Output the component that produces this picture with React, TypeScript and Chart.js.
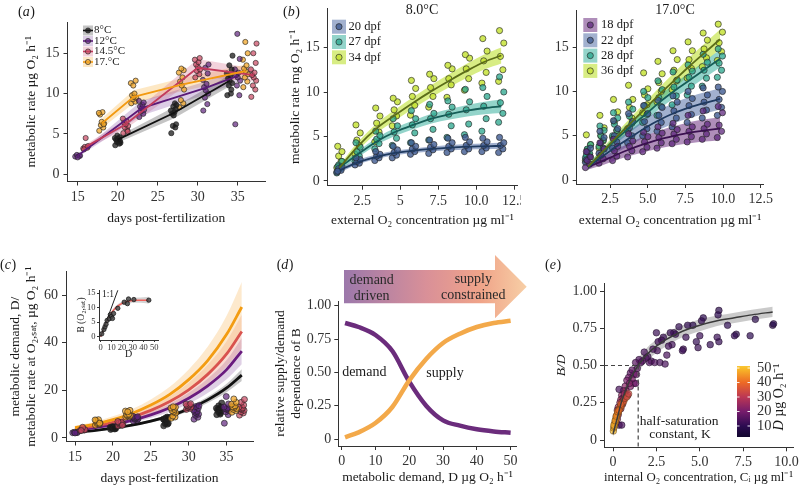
import React, { useEffect, useRef } from 'react';
import { Chart, registerables } from 'chart.js';

Chart.register(...registerables);

const SERIF = "'Liberation Serif', 'Times New Roman', Times, serif";
Chart.defaults.font.family = SERIF;
const INK = '#1a1a1a';
const AXIS = '#333333';
const TICK_FONT = 14;

// ---------------- (a) / (c) : metabolic rate by day & temperature ----------------
const TEMP_LABELS = ['8°C', '12°C', '14.5°C', '17.°C'];
const DAYS_8 = [20, 27, 34];
const MEAN_8 = [4.3, 7.6, 11.6];
const LO_8 = [3.9, 6.9, 10.9];
const HI_8 = [4.7, 8.3, 12.3];
const PTS_8 = [
  [3.6, 3.8, 4.0, 4.1, 4.2, 4.3, 4.4, 4.5, 4.6, 4.8, 3.9, 4.2],
  [5.1, 5.8, 6.0, 6.2, 7.3, 7.5, 7.7, 7.9, 8.1, 8.4, 8.6, 8.8],
  [9.8, 10.5, 11.0, 11.3, 11.6, 11.9, 12.2, 12.5, 13.0, 13.5, 14.7, 10.0],
];
const DAYS_12 = [15, 23, 31, 35];
const MEAN_12 = [2.3, 8.2, 10.7, 12.2];
const LO_12 = [2.1, 7.3, 9.9, 11.4];
const HI_12 = [2.5, 9.1, 11.5, 13.0];
const PTS_12 = [
  [2.2, 2.3, 2.4, 2.3, 2.1],
  [7.1, 7.5, 7.8, 8.0, 8.2, 8.4, 8.6, 9.1, 8.9],
  [7.9, 8.7, 9.5, 10.0, 10.4, 10.8, 11.2, 11.7, 12.5, 13.2, 13.6],
  [6.2, 9.8, 11.0, 11.6, 12.0, 12.3, 12.6, 13.0, 14.3, 17.4],
];
const DAYS_145 = [16, 21, 30, 37];
const MEAN_145 = [3.4, 6.2, 13.2, 12.3];
const LO_145 = [3.1, 5.6, 12.1, 11.5];
const HI_145 = [3.7, 6.8, 14.3, 13.1];
const PTS_145 = [
  [3.2, 3.3, 3.4, 3.5, 4.5, 3.1],
  [5.1, 5.5, 5.8, 6.0, 6.2, 6.4, 6.6, 6.9, 5.3],
  [12.0, 12.4, 12.8, 13.0, 13.3, 13.6, 13.9, 14.2, 14.4],
  [9.6, 10.5, 11.0, 11.6, 12.0, 12.3, 12.6, 13.0, 13.8, 15.0, 16.2],
];
const DAYS_17 = [18, 22, 28, 36];
const MEAN_17 = [6.3, 9.6, 11.1, 12.8];
const LO_17 = [5.7, 8.8, 10.3, 12.0];
const HI_17 = [6.9, 10.4, 11.9, 13.6];
const PTS_17 = [
  [5.4, 5.8, 6.1, 6.3, 6.5, 7.4, 7.7, 7.6, 6.2],
  [8.8, 9.0, 9.3, 9.5, 9.6, 9.8, 10.0, 11.3, 11.6, 11.0],
  [8.3, 8.8, 9.2, 10.5, 11.0, 11.5, 12.0, 12.6, 12.9, 13.1],
  [10.8, 11.5, 12.0, 12.4, 12.8, 13.1, 13.5, 14.2, 15.0, 16.4],
];
const JIT_A = [-0.3, 0.2, -0.1, 0.3, 0.0, -0.2, 0.1, -0.35, 0.25, -0.05, 0.35, 0.15];

// (c) demand curves
const C_DAYS = [15, 17.5, 20, 22.5, 25, 27.5, 30, 32.5, 35, 37];
const C_8 = [2.4, 3.1, 4.1, 5.4, 7.1, 9.3, 12.2, 16.0, 21.0, 26.4];
const C_12 = [3.3, 4.3, 5.6, 7.4, 9.7, 12.7, 16.7, 21.9, 28.7, 36.5];
const C_145 = [3.8, 5.0, 6.6, 8.8, 11.6, 15.3, 20.2, 26.7, 35.3, 44.7];
const C_17 = [4.3, 5.7, 7.7, 10.3, 13.8, 18.3, 24.5, 32.5, 43.5, 55.0];
const C_8_HW = [0.3, 0.35, 0.4, 0.5, 0.6, 0.8, 1.0, 1.3, 1.8, 2.5];
const C_12_HW = [0.5, 0.6, 0.8, 1.0, 1.3, 1.7, 2.3, 3.0, 4.0, 5.5];
const C_145_HW = [0.6, 0.8, 1.0, 1.3, 1.7, 2.2, 3.0, 4.0, 5.3, 7.0];
const C_17_HW = [0.8, 1.0, 1.4, 1.8, 2.4, 3.2, 4.3, 5.8, 7.8, 10.5];

// (c) inset
const IN_D = [1, 3, 4, 5, 6, 8, 9, 10, 11, 12, 16, 22, 25, 26, 31, 45];
const IN_B = [1.0, 2.5, 3.4, 4.3, 5.6, 6.2, 7.6, 7.0, 6.3, 8.0, 9.8, 11.9, 11.4, 13.0, 12.8, 12.6];
const IN_FIT_D = [0, 5, 10, 15, 20, 25, 30, 35, 40, 45];
const IN_FIT_B = [0, 4.8, 8.2, 10.3, 11.5, 12.2, 12.5, 12.6, 12.6, 12.6];
const IN_FIT_HW = [0.3, 0.5, 0.6, 0.6, 0.6, 0.7, 0.8, 0.9, 1.0, 1.2];
const IN_ONE_D = [0, 16];
const IN_ONE_B = [0, 16];

// ---------------- (b) 8.0°C ----------------
const O2_8 = [1.0, 2.2, 3.5, 4.65, 5.85, 7.05, 8.25, 9.4, 10.55, 11.65];
const FIT_8_20 = [1.2, 2.1, 2.75, 3.15, 3.4, 3.6, 3.75, 3.85, 3.9, 3.95];
const FIT_8_27 = [1.5, 3.0, 4.5, 5.5, 6.3, 7.0, 7.5, 7.9, 8.2, 8.4];
const FIT_8_34 = [1.5, 3.9, 6.0, 7.4, 8.8, 10.1, 11.3, 12.4, 13.4, 14.1];
const HW_8_20 = [0.25, 0.25, 0.25, 0.25, 0.25, 0.28, 0.3, 0.3, 0.32, 0.35];
const HW_8_27 = [0.3, 0.35, 0.4, 0.45, 0.5, 0.55, 0.6, 0.65, 0.7, 0.75];
const HW_8_34 = [0.3, 0.45, 0.55, 0.6, 0.65, 0.7, 0.75, 0.8, 0.85, 0.9];
const PTS_8_20 = [
  [1.0, 1.2, 1.4, 1.6, 1.1], [1.8, 2.0, 2.2, 2.4, 2.6], [2.3, 2.6, 2.8, 3.0, 3.3],
  [2.6, 2.9, 3.2, 3.5, 3.9], [3.0, 3.3, 3.6, 3.9, 4.3], [3.1, 3.5, 3.8, 4.1, 4.6],
  [3.2, 3.6, 3.9, 4.3, 4.8], [3.3, 3.6, 4.0, 4.4, 4.9], [3.3, 3.7, 4.0, 4.4, 4.8],
  [3.2, 3.6, 4.0, 4.3, 4.9],
];
const PTS_8_27 = [
  [0.9, 1.4, 1.8, 2.2, 1.6], [2.2, 2.8, 3.3, 3.8, 4.3], [3.6, 4.2, 4.7, 5.1, 5.6],
  [4.0, 4.8, 5.5, 6.2, 7.0], [4.3, 5.4, 6.3, 7.0, 7.9], [4.6, 5.8, 7.0, 7.6, 8.6],
  [4.9, 6.2, 7.5, 8.3, 9.0], [5.2, 6.4, 8.0, 8.9, 10.3], [5.6, 7.0, 8.4, 9.5, 10.5],
  [6.6, 7.6, 8.8, 10.0, 11.7],
];
const PTS_8_34 = [
  [1.5, 2.2, 2.8, 3.3, 3.9], [3.0, 4.0, 4.6, 5.4, 6.3], [4.4, 5.5, 6.5, 7.3, 8.2],
  [6.2, 7.3, 8.0, 8.9, 9.3], [7.4, 8.5, 9.5, 10.4, 11.3], [8.3, 9.5, 10.5, 11.5, 12.0],
  [9.4, 10.8, 11.5, 12.6, 13.0], [10.2, 11.5, 12.6, 13.8, 14.2], [11.0, 12.2, 13.5, 14.6, 16.0],
  [11.2, 12.5, 14.0, 15.5, 16.9],
];

// ---------------- (b) 17.0°C ----------------
const O2_17 = [1.05, 1.95, 2.85, 3.85, 4.85, 5.8, 6.8, 7.8, 8.8, 9.8];
const FIT_17_18 = [1.5, 2.1, 2.8, 3.5, 4.1, 4.6, 5.0, 5.35, 5.6, 5.8];
const FIT_17_22 = [1.5, 2.6, 3.7, 4.8, 5.9, 6.8, 7.6, 8.2, 8.7, 9.15];
const FIT_17_28 = [1.5, 3.0, 4.5, 6.0, 7.4, 8.8, 10.1, 11.3, 12.5, 13.7];
const FIT_17_36 = [1.5, 3.1, 4.7, 6.4, 8.1, 9.7, 11.3, 12.9, 14.4, 15.9];
const HW_17_18 = [0.3, 0.45, 0.6, 0.75, 0.9, 1.0, 1.1, 1.2, 1.25, 1.3];
const HW_17_22 = [0.3, 0.5, 0.7, 0.85, 1.0, 1.1, 1.15, 1.2, 1.2, 1.2];
const HW_17_28 = [0.3, 0.4, 0.5, 0.6, 0.7, 0.75, 0.8, 0.9, 0.95, 1.0];
const HW_17_36 = [0.3, 0.4, 0.5, 0.6, 0.7, 0.8, 0.9, 1.0, 1.05, 1.1];
const PTS_17_18 = [
  [1.4, 1.8, 2.2, 2.6, 3.2], [1.9, 2.4, 2.8, 3.5, 4.2], [2.2, 2.7, 3.3, 3.8, 4.6],
  [2.6, 3.3, 3.8, 4.4, 5.2], [3.2, 3.7, 4.3, 4.9, 5.4], [3.6, 4.2, 4.8, 5.3, 6.0],
  [4.1, 4.6, 5.2, 5.7, 6.4], [4.3, 4.9, 5.5, 6.0, 7.3], [4.6, 5.2, 5.8, 6.3, 7.8],
  [4.8, 5.5, 6.2, 7.6, 8.3],
];
const PTS_17_22 = [
  [2.0, 2.6, 3.2, 3.6, 2.3], [3.0, 3.6, 4.2, 4.8, 5.5], [3.6, 4.3, 5.0, 5.8, 6.7],
  [4.2, 5.0, 5.9, 6.6, 7.5], [5.0, 5.8, 6.6, 7.5, 8.4], [5.5, 6.5, 7.3, 8.2, 9.0],
  [6.0, 7.0, 7.8, 8.8, 9.5], [6.5, 7.4, 8.4, 9.2, 10.0], [7.0, 7.9, 8.8, 9.6, 10.4],
  [7.3, 8.2, 9.1, 10.0, 10.5],
];
const PTS_17_28 = [
  [2.5, 3.0, 3.5, 4.0, 2.8], [3.8, 4.5, 5.0, 5.6, 6.1], [5.0, 5.6, 6.3, 7.0, 7.6],
  [5.6, 6.4, 7.2, 8.0, 8.8], [6.5, 7.4, 8.4, 9.3, 10.0], [7.3, 8.3, 9.3, 10.2, 11.2],
  [8.5, 9.5, 10.5, 11.3, 12.2], [9.6, 10.6, 11.6, 12.3, 13.0], [10.6, 11.5, 12.4, 13.3, 14.2],
  [11.6, 12.4, 13.2, 14.0, 14.8],
];
const PTS_17_36 = [
  [2.2, 2.8, 3.4, 4.0, 5.1], [3.6, 4.4, 5.0, 5.9, 7.3], [4.8, 5.6, 6.6, 7.7, 9.1],
  [5.8, 7.0, 8.2, 9.1, 10.7], [7.6, 8.5, 9.6, 10.3, 12.1], [8.8, 10.0, 11.0, 12.0, 13.4],
  [10.2, 11.2, 12.4, 13.6, 14.6], [11.5, 12.6, 13.6, 14.6, 15.6], [12.8, 13.8, 14.8, 15.8, 16.6],
  [13.5, 14.5, 15.5, 16.7, 17.6],
];
const JIT_B = [-0.18, 0.1, -0.06, 0.16, -0.12];

// ---------------- (d) ----------------
const D_X = [1, 5, 10, 15, 20, 25, 30, 35, 40, 45, 50];
const D_DEMAND = [0.87, 0.84, 0.78, 0.66, 0.43, 0.25, 0.14, 0.1, 0.073, 0.057, 0.047];
const D_SUPPLY = [0.013, 0.05, 0.12, 0.24, 0.44, 0.6, 0.72, 0.79, 0.84, 0.87, 0.887];

// ---------------- (e) ----------------
const E_FIT_C = [0, 0.25, 0.5, 1.0, 1.5, 2.0, 2.5, 3.0, 4.0, 5.0, 6.0, 7.0, 8.0, 9.2];
const E_FIT_BD = [0.04, 0.15, 0.26, 0.41, 0.51, 0.58, 0.63, 0.67, 0.73, 0.77, 0.8, 0.82, 0.84, 0.86];
const E_FIT_HW = [0.02, 0.03, 0.035, 0.04, 0.045, 0.045, 0.045, 0.045, 0.04, 0.04, 0.035, 0.035, 0.035, 0.035];
const E_K = 1.45;
const E_HALF = 0.5;
// [C, B/D, D]
const E_LOW = [
  [9.2, 0.77, 9], [9.25, 0.78, 8], [8.2, 0.81, 9], [7.9, 0.7, 10], [7.1, 0.71, 9], [7.0, 0.7, 11],
  [6.6, 0.77, 10], [6.1, 0.87, 9], [6.05, 0.84, 10], [6.1, 0.66, 11], [6.0, 0.69, 12], [5.6, 0.64, 11],
  [5.2, 0.82, 10], [5.1, 0.8, 11], [5.0, 0.7, 12], [4.9, 0.62, 12], [4.8, 0.66, 11], [4.6, 0.77, 10],
  [4.3, 0.77, 11], [4.2, 0.69, 12], [4.05, 0.61, 13], [4.0, 0.6, 12], [3.8, 0.76, 11], [3.6, 0.71, 12],
  [3.5, 0.72, 12], [3.4, 0.64, 13], [3.2, 0.63, 13], [3.1, 0.57, 14], [2.9, 0.69, 12], [2.8, 0.67, 13],
  [2.6, 0.66, 13], [2.55, 0.6, 14], [2.3, 0.61, 14], [2.2, 0.53, 15], [2.1, 0.52, 15], [2.0, 0.56, 14],
  [1.9, 0.55, 15], [1.8, 0.59, 14], [1.7, 0.53, 16], [1.6, 0.52, 16], [1.5, 0.54, 15], [1.4, 0.48, 17],
  [1.3, 0.52, 16], [2.4, 0.52, 15], [2.7, 0.52, 14], [3.0, 0.51, 14], [2.5, 0.72, 12], [3.3, 0.72, 12],
  [1.2, 0.44, 18],
];
const E_MID = [
  [1.0, 0.45, 18], [1.1, 0.47, 17], [0.9, 0.42, 20], [1.2, 0.38, 20], [1.3, 0.38, 19], [1.0, 0.36, 22],
  [0.8, 0.4, 21], [0.7, 0.36, 23], [0.75, 0.33, 24], [0.6, 0.33, 25], [0.5, 0.3, 26], [0.55, 0.28, 27],
  [0.45, 0.27, 28], [0.4, 0.25, 29], [0.35, 0.34, 14], [0.3, 0.22, 30], [0.25, 0.2, 30], [0.2, 0.16, 31],
  [0.15, 0.12, 32], [0.35, 0.1, 12], [0.5, 0.1, 14], [0.6, 0.27, 26], [0.85, 0.3, 28], [1.1, 0.41, 21],
  [1.35, 0.44, 19], [0.95, 0.38, 22], [0.65, 0.31, 25], [0.45, 0.21, 30], [0.3, 0.17, 31], [0.25, 0.14, 32],
  [0.55, 0.24, 28],
];
const E_HIGH = [
  [0.02, 0.06, 50], [0.04, 0.08, 49], [0.07, 0.09, 48], [0.1, 0.11, 47], [0.13, 0.12, 46], [0.16, 0.14, 45],
  [0.2, 0.15, 44], [0.24, 0.17, 43], [0.28, 0.18, 42], [0.32, 0.19, 41], [0.37, 0.21, 40], [0.42, 0.22, 39],
  [0.48, 0.23, 38], [0.55, 0.25, 37], [0.62, 0.26, 36], [0.7, 0.28, 35], [0.8, 0.29, 34], [0.9, 0.31, 33],
  [0.05, 0.1, 48], [0.12, 0.13, 46], [0.18, 0.16, 44], [0.26, 0.19, 42], [0.34, 0.2, 40], [0.45, 0.24, 38],
];
const CB_TICKS = [50, 40, 30, 20, 10];
const D_STOPS: any[] = [
  [2, '#10072c'], [10, '#2c0b51'], [20, '#761c6c'], [30, '#bc3754'], [40, '#ed6925'], [50, '#f9be28'], [53, '#f6cf45'],
];

// ---------------- styles ----------------
const TEMP_LINE = ['#111111', '#5a1a78', '#c23b5c', '#f29a12'];
const TEMP_PT = ['rgba(25,25,25,0.75)', 'rgba(95,35,125,0.7)', 'rgba(200,70,95,0.7)', 'rgba(240,165,40,0.75)'];
const TEMP_BAND = ['rgba(60,60,60,0.3)', 'rgba(140,90,170,0.3)', 'rgba(215,110,140,0.3)', 'rgba(250,190,90,0.35)'];
const C_LINE = ['#111111', '#6a1b7e', '#d9534e', '#f39c12'];
const C_BAND = ['rgba(70,70,70,0.3)', 'rgba(150,100,170,0.3)', 'rgba(235,140,110,0.3)', 'rgba(250,200,130,0.4)'];

type Pt = { x: number; y: number };
const xy = (xs: number[], ys: number[]): Pt[] => xs.map((x, i) => ({ x, y: ys[i] }));
const xyOff = (xs: number[], ys: number[], hw: number[], s: number): Pt[] => xs.map((x, i) => ({ x, y: ys[i] + s * hw[i] }));
const clusterPts = (xs: number[], groups: number[][], jit: number[]): Pt[] => {
  const out: Pt[] = [];
  groups.forEach((vals, i) => vals.forEach((v, j) => out.push({ x: xs[i] + jit[j % jit.length], y: v })));
  return out;
};

function hexToRgb(h: string) {
  const n = parseInt(h.slice(1), 16);
  return [(n >> 16) & 255, (n >> 8) & 255, n & 255];
}
function dColor(d: number, a = 1) {
  let i = 0;
  while (i < D_STOPS.length - 2 && d > D_STOPS[i + 1][0]) i++;
  const [d0, c0] = D_STOPS[i];
  const [d1, c1] = D_STOPS[i + 1];
  const t = Math.max(0, Math.min(1, (d - d0) / (d1 - d0)));
  const a0 = hexToRgb(c0), a1 = hexToRgb(c1);
  const r = a0.map((v, k) => Math.round(v + (a1[k] - v) * t));
  return `rgba(${r[0]},${r[1]},${r[2]},${a})`;
}

type AxisSpec = {
  pos: 'x' | 'y'; min: number; max: number; ticks: number[]; labels?: string[]; size: number;
  title?: string | string[]; titlePad?: number; titleItalic?: boolean; font?: number; titleFont?: number;
  tickLen?: number; tickPad?: number;
};
function mkAxis(a: AxisSpec) {
  const isX = a.pos === 'x';
  return {
    type: 'linear',
    position: isX ? 'bottom' : 'left',
    min: a.min, max: a.max, bounds: 'data',
    afterBuildTicks: (s: any) => { s.ticks = a.ticks.map((v) => ({ value: v })); },
    afterFit: (s: any) => {
      if (isX) s.height = a.size; else s.width = a.size;
      s.paddingLeft = 0; s.paddingRight = 0; s.paddingTop = 0; s.paddingBottom = 0;
    },
    ticks: {
      autoSkip: false, maxRotation: 0, minRotation: 0, padding: a.tickPad ?? 3, color: '#333333',
      font: { family: SERIF, size: a.font ?? TICK_FONT },
      callback: (v: any, i: number) => (a.labels ? a.labels[i] : String(v)),
    },
    grid: { display: true, drawOnChartArea: false, drawTicks: true, tickLength: a.tickLen ?? 4, color: AXIS, tickColor: AXIS, lineWidth: 1, tickWidth: 1 },
    border: { display: true, color: AXIS, width: 1 },
    title: a.title
      ? { display: true, text: a.title, color: INK, font: { family: SERIF, size: a.titleFont ?? 13.5, style: a.titleItalic ? 'italic' : 'normal', lineHeight: 1.2 },
          padding: isX ? { top: 0, bottom: a.titlePad ?? 0 } : { top: a.titlePad ?? 0, bottom: 0 } }
      : { display: false },
  };
}

function baseConfig(datasets: any[], scales: any, padding: any, plugins: any[]) {
  return {
    type: 'line',
    data: { datasets },
    options: {
      responsive: false, animation: false, events: [],
      layout: { padding, autoPadding: false },
      plugins: { legend: { display: false }, tooltip: { enabled: false }, title: { display: false } },
      scales,
    },
    plugins,
  };
}

const dsPts = (data: Pt[], fill: any, r = 3, order = 1, stroke = 'rgba(35,35,35,0.8)') => ({
  data, showLine: false, pointRadius: r, pointHoverRadius: r, pointBackgroundColor: fill, pointBorderColor: stroke, pointBorderWidth: 0.8, order,
});
const dsLine = (data: Pt[], color: string, width: number, order = 0, extra: any = {}) => ({
  data, borderColor: color, borderWidth: width, pointRadius: 0, pointHoverRadius: 0, fill: false, order, cubicInterpolationMode: 'monotone', ...extra,
});
const dsBand = (lo: Pt[], hi: Pt[], color: string, order = 10, extra: any = {}) => [
  { data: lo, borderWidth: 0, borderColor: 'rgba(0,0,0,0)', pointRadius: 0, pointHoverRadius: 0, fill: false, order, cubicInterpolationMode: 'monotone', ...extra },
  { data: hi, borderWidth: 0, borderColor: 'rgba(0,0,0,0)', pointRadius: 0, pointHoverRadius: 0, fill: '-1', backgroundColor: color, order, cubicInterpolationMode: 'monotone', ...extra },
];

function txt(ctx: CanvasRenderingContext2D, s: string, x: number, y: number, o: any = {}) {
  ctx.save();
  ctx.font = `${o.italic ? 'italic ' : ''}${o.size ?? 13}px ${SERIF}`;
  ctx.fillStyle = o.color ?? INK;
  ctx.textAlign = o.align ?? 'center';
  ctx.textBaseline = o.base ?? 'middle';
  ctx.translate(x, y);
  if (o.rot) ctx.rotate(o.rot);
  ctx.fillText(s, 0, 0);
  ctx.restore();
}
function panelLabel(ctx: CanvasRenderingContext2D, letter: string, x: number, y: number) {
  ctx.save();
  ctx.textBaseline = 'middle'; ctx.textAlign = 'left'; ctx.fillStyle = INK;
  ctx.font = `14px ${SERIF}`;
  ctx.fillText('(', x, y);
  let w = ctx.measureText('(').width;
  ctx.font = `italic 14px ${SERIF}`;
  ctx.fillText(letter, x + w, y);
  w += ctx.measureText(letter).width + 0.5;
  ctx.font = `14px ${SERIF}`;
  ctx.fillText(')', x + w, y);
  ctx.restore();
}
const drawPlugin = (id: string, fn: (chart: any, ctx: CanvasRenderingContext2D) => void) => ({
  id, afterDraw(chart: any) { const ctx = chart.ctx; ctx.save(); fn(chart, ctx); ctx.restore(); },
});
function keyBox(ctx: CanvasRenderingContext2D, x: number, y: number, w: number, h: number, band: string, pt: string, r: number, line?: string) {
  ctx.fillStyle = band; ctx.fillRect(x, y - h / 2, w, h);
  if (line) { ctx.strokeStyle = line; ctx.lineWidth = 1.6; ctx.beginPath(); ctx.moveTo(x, y); ctx.lineTo(x + w, y); ctx.stroke(); }
  ctx.beginPath(); ctx.arc(x + w / 2, y, r, 0, Math.PI * 2); ctx.fillStyle = pt; ctx.fill();
  ctx.strokeStyle = 'rgba(35,35,35,0.8)'; ctx.lineWidth = 0.8; ctx.stroke();
}

// ---------------- panel makers ----------------
const TEMPS = [
  { days: DAYS_8, mean: MEAN_8, lo: LO_8, hi: HI_8, pts: PTS_8 },
  { days: DAYS_12, mean: MEAN_12, lo: LO_12, hi: HI_12, pts: PTS_12 },
  { days: DAYS_145, mean: MEAN_145, lo: LO_145, hi: HI_145, pts: PTS_145 },
  { days: DAYS_17, mean: MEAN_17, lo: LO_17, hi: HI_17, pts: PTS_17 },
];

function makeA() {
  const W = 285, H = 235, L = 67.5, T = 22, R = 265, B = 181.5;
  const ds: any[] = [];
  const straight = { cubicInterpolationMode: 'default', tension: 0 };
  TEMPS.forEach((t, k) => ds.push(...dsBand(xy(t.days, t.lo), xy(t.days, t.hi), TEMP_BAND[k], 10 + k, straight)));
  TEMPS.forEach((t, k) => ds.push(dsPts(clusterPts(t.days, t.pts, JIT_A), TEMP_PT[k], 2.6, 5)));
  TEMPS.forEach((t, k) => ds.push(dsLine(xy(t.days, t.mean), TEMP_LINE[k], 1.8, 4 - k, straight)));
  const scales = {
    x: mkAxis({ pos: 'x', min: 13.73, max: 38.41, ticks: [15, 20, 25, 30, 35], size: H - B, title: 'days post-fertilization', titlePad: 8.6, tickPad: 3 }),
    y: mkAxis({ pos: 'y', min: -0.89, max: 18.87, ticks: [0, 5, 10, 15], size: L, title: 'metabolic rate µg O₂ h⁻¹', titlePad: 22.9, tickPad: 4 }),
  };
  const deco = drawPlugin('decoA', (chart, ctx) => {
    panelLabel(ctx, 'a', 18, 12);
    TEMP_LABELS.forEach((lab, i) => {
      const y = 30.5 + i * 10.5;
      keyBox(ctx, 83, y, 10, 10, TEMP_BAND[i], TEMP_PT[i], 2.6, TEMP_LINE[i]);
      txt(ctx, lab, 94, y, { size: 11, align: 'left' });
    });
  });
  return baseConfig(ds, scales, { left: 0, top: T, right: W - R, bottom: 0 }, [deco]);
}

function makeB(which: 8 | 17) {
  const is8 = which === 8;
  const W = is8 ? 241 : 259, H = 235;
  const L = is8 ? 47.7 : 36.7, T = is8 ? 8 : 10, R = is8 ? 237 : 223.3, B = is8 ? 185.7 : 184;
  const xs = is8 ? O2_8 : O2_17;
  const groups = is8
    ? [
        { fit: FIT_8_20, hw: HW_8_20, pts: PTS_8_20, lab: '20 dpf', c: 1 },
        { fit: FIT_8_27, hw: HW_8_27, pts: PTS_8_27, lab: '27 dpf', c: 2 },
        { fit: FIT_8_34, hw: HW_8_34, pts: PTS_8_34, lab: '34 dpf', c: 3 },
      ]
    : [
        { fit: FIT_17_18, hw: HW_17_18, pts: PTS_17_18, lab: '18 dpf', c: 0 },
        { fit: FIT_17_22, hw: HW_17_22, pts: PTS_17_22, lab: '22 dpf', c: 1 },
        { fit: FIT_17_28, hw: HW_17_28, pts: PTS_17_28, lab: '28 dpf', c: 2 },
        { fit: FIT_17_36, hw: HW_17_36, pts: PTS_17_36, lab: '36 dpf', c: 3 },
      ];
  const PT = ['rgba(95,40,125,0.75)', 'rgba(62,90,145,0.8)', 'rgba(40,165,140,0.75)', 'rgba(195,225,45,0.8)'];
  const BAND = ['rgba(110,50,130,0.55)', 'rgba(70,100,160,0.5)', 'rgba(40,170,150,0.5)', 'rgba(190,225,50,0.6)'];
  const LINE = ['#3a1050', '#1f3a60', '#165e58', '#5c6d18'];
  const ds: any[] = [];
  groups.forEach((g, k) => ds.push(...dsBand(xyOff(xs, g.fit, g.hw, -1), xyOff(xs, g.fit, g.hw, 1), BAND[g.c], 10 + k)));
  groups.forEach((g, k) => ds.push(dsPts(clusterPts(xs, g.pts, JIT_B), PT[g.c], 3.1, 5)));
  groups.forEach((g, k) => ds.push(dsLine(xy(xs, g.fit), LINE[g.c], 1.8, 4 - k)));
  const scales = {
    x: mkAxis({ pos: 'x', min: is8 ? 0.22 : 0.29, max: is8 ? 12.68 : 12.67, ticks: [2.5, 5, 7.5, 10, 12.5],
      labels: is8 ? ['2.5', '5', '7.5', '10.0', '12.5'] : ['2.5', '5.0', '7.5', '10.0', '12.5'],
      size: H - B, title: 'external O₂ concentration µg ml⁻¹', titlePad: 6.9, tickPad: 3 }),
    y: mkAxis({ pos: 'y', min: is8 ? -0.53 : -0.45, max: is8 ? 19.44 : 19.2, ticks: [0, 5, 10, 15], size: L,
      title: is8 ? 'metabolic rate mg O₂ h⁻¹' : undefined, titlePad: 6.9, tickPad: 4 }),
  };
  const deco = drawPlugin('decoB' + which, (chart, ctx) => {
    if (is8) panelLabel(ctx, 'b', 3, 12);
    txt(ctx, is8 ? '8.0°C' : '17.0°C', is8 ? 142 : 135, 10, { size: 14 });
    const bx = is8 ? 52 : 43.3, tx = is8 ? 68.5 : 61, y0 = is8 ? 26.7 : 25;
    groups.forEach((g, i) => {
      const y = y0 + i * 15.3;
      keyBox(ctx, bx, y, 14, 14, BAND[g.c], PT[g.c], 3.1);
      txt(ctx, g.lab, tx, y, { size: 12.5, align: 'left' });
    });
  });
  return baseConfig(ds, scales, { left: 0, top: T, right: W - R, bottom: 0 }, [deco]);
}

function makeC() {
  const W = 275, H = 255, L = 66, T = 31.7, R = 253, B = 201.5;
  const curves = [
    { y: C_8, hw: C_8_HW }, { y: C_12, hw: C_12_HW }, { y: C_145, hw: C_145_HW }, { y: C_17, hw: C_17_HW },
  ];
  const ds: any[] = [];
  curves.forEach((c, k) => ds.push(...dsBand(xyOff(C_DAYS, c.y, c.hw, -1), xyOff(C_DAYS, c.y, c.hw, 1), C_BAND[k], 20 - k)));
  curves.forEach((c, k) => ds.push(dsLine(xy(C_DAYS, c.y), C_LINE[k], 2.8, 8 - k)));
  TEMPS.forEach((t, k) => ds.push(dsPts(clusterPts(t.days, t.pts, JIT_A), TEMP_PT[k], 3, 4 - k)));
  const scales = {
    x: mkAxis({ pos: 'x', min: 13.81, max: 38.48, ticks: [15, 20, 25, 30, 35], size: H - B, title: 'days post-fertilization', titlePad: 8.6, tickPad: 3 }),
    y: mkAxis({ pos: 'y', min: -1.47, max: 69.8, ticks: [0, 20, 40, 60], size: L,
      title: ['metabolic demand, D/', 'metabolic rate at O₂,ₛₐₜ, µg O₂ h⁻¹'], titlePad: 6.9, tickPad: 4 }),
  };
  const deco = drawPlugin('decoC', (chart, ctx) => { panelLabel(ctx, 'c', 0, 25); });
  return baseConfig(ds, scales, { left: 0, top: T, right: W - R, bottom: 0 }, [deco]);
}

function makeInset() {
  const W = 100, H = 85, L = 29, T = 12, R = 88, B = 62;
  const ds: any[] = [
    ...dsBand(xyOff(IN_FIT_D, IN_FIT_B, IN_FIT_HW, -1), xyOff(IN_FIT_D, IN_FIT_B, IN_FIT_HW, 1), 'rgba(160,160,160,0.45)', 10),
    dsLine(xy(IN_FIT_D, IN_FIT_B), '#f0605a', 1.5, 2),
    dsLine(xy(IN_ONE_D, IN_ONE_B), '#222222', 1, 1, { cubicInterpolationMode: 'default', tension: 0 }),
    dsPts(xy(IN_D, IN_B), 'rgba(70,70,70,0.85)', 2.2, 0, 'rgba(20,20,20,0.9)'),
  ];
  const scales = {
    x: mkAxis({ pos: 'x', min: -1.6, max: 53.6, ticks: [0, 10, 20, 30, 40, 50], size: H - B, title: 'D', titlePad: 3, font: 8.5, titleFont: 10, tickLen: 2, tickPad: 0.5 }),
    y: mkAxis({ pos: 'y', min: -1.14, max: 16.1, ticks: [0, 5, 10, 15], size: L, title: 'B (O₂,ₛₐₜ)', titlePad: 6, font: 8.5, titleFont: 9.5, tickLen: 2, tickPad: 1.5 }),
  };
  const deco = drawPlugin('decoIn', (chart, ctx) => { txt(ctx, '1:1', 38, 16, { size: 9.5 }); });
  return baseConfig(ds, scales, { left: 0, top: T, right: W - R, bottom: 0 }, [deco]);
}

function makeD() {
  const W = 260, H = 255, L = 68.3, T = 61, R = 246.7, B = 206;
  const ds: any[] = [
    dsLine(xy(D_X, D_DEMAND), '#6b2c7c', 4.5, 1),
    dsLine(xy(D_X, D_SUPPLY), '#f3a94a', 4.5, 0),
  ];
  const scales = {
    x: mkAxis({ pos: 'x', min: -1.0, max: 51.8, ticks: [0, 10, 20, 30, 40, 50], size: H - B, title: 'metabolic demand, D µg O₂ h⁻¹', titlePad: 9.6, tickPad: 3 }),
    y: mkAxis({ pos: 'y', min: -0.0525, max: 1.035, ticks: [0, 0.25, 0.5, 0.75, 1], labels: ['0', '0.25', '0.50', '0.75', '1.00'], size: L,
      title: ['relative supply/demand', 'dependence of B'], titlePad: 1.9, tickPad: 3 }),
  };
  const deco = drawPlugin('decoD', (chart, ctx) => {
    panelLabel(ctx, 'd', 6.7, 25);
    const g = ctx.createLinearGradient(74, 0, 257, 0);
    g.addColorStop(0, '#9c78ab');
    g.addColorStop(0.45, '#d99098');
    g.addColorStop(0.75, '#f0a489');
    g.addColorStop(1, '#f7cfa6');
    ctx.fillStyle = g;
    ctx.beginPath();
    ctx.moveTo(74, 30); ctx.lineTo(225, 30); ctx.lineTo(225, 15); ctx.lineTo(256.7, 46.7);
    ctx.lineTo(225, 78.3); ctx.lineTo(225, 63.3); ctx.lineTo(74, 63.3); ctx.closePath(); ctx.fill();
    txt(ctx, 'demand', 101.7, 40, { size: 14, color: '#2a2a2a' });
    txt(ctx, 'driven', 101.7, 56.5, { size: 14, color: '#2a2a2a' });
    txt(ctx, 'supply', 203.3, 39, { size: 14, color: '#2a2a2a' });
    txt(ctx, 'constrained', 203.3, 55, { size: 14, color: '#2a2a2a' });
    txt(ctx, 'demand', 94.3, 132.3, { size: 14 });
    txt(ctx, 'supply', 175, 133.3, { size: 14 });
  });
  return baseConfig(ds, scales, { left: 0, top: T, right: W - R, bottom: 0 }, [deco]);
}

function makeE() {
  const W = 269, H = 255, L = 74, T = 43.3, R = 263, B = 207.3;
  const toPts = (arr: number[][]) => arr.map((p) => ({ x: p[0], y: p[1] }));
  const cols = (arr: number[][]) => arr.map((p) => dColor(p[2], 0.7));
  const ds: any[] = [
    ...dsBand(xyOff(E_FIT_C, E_FIT_BD, E_FIT_HW, -1), xyOff(E_FIT_C, E_FIT_BD, E_FIT_HW, 1), 'rgba(150,150,150,0.5)', 20),
    dsPts(toPts(E_LOW), cols(E_LOW), 3.3, 12, 'rgba(40,20,50,0.75)'),
    dsPts(toPts(E_MID), cols(E_MID), 3.3, 11, 'rgba(40,20,50,0.75)'),
    dsPts(toPts(E_HIGH), cols(E_HIGH), 3.3, 10, 'rgba(90,60,20,0.6)'),
    dsLine(xy(E_FIT_C, E_FIT_BD), '#3a3a3a', 1.5, 2),
    dsLine([{ x: -0.52, y: E_HALF }, { x: E_K, y: E_HALF }], '#444444', 1.2, 1, { cubicInterpolationMode: 'default', tension: 0, borderDash: [4, 3] }),
    dsLine([{ x: E_K, y: E_HALF }, { x: E_K, y: -0.049 }], '#444444', 1.2, 1, { cubicInterpolationMode: 'default', tension: 0, borderDash: [4, 3] }),
  ];
  const scales = {
    x: mkAxis({ pos: 'x', min: -0.52, max: 10.37, ticks: [0, 2.5, 5, 7.5, 10], labels: ['0', '2.5', '5.0', '7.5', '10.0'], size: H - B,
      title: 'internal O₂ concentration, Cᵢ µg ml⁻¹', titlePad: 9.9, tickPad: 3 }),
    y: mkAxis({ pos: 'y', min: -0.049, max: 1.052, ticks: [0, 0.25, 0.5, 0.75, 1], labels: ['0', '0.25', '0.50', '0.75', '1.00'], size: L,
      title: 'B/D', titleItalic: true, titlePad: 23.6, tickPad: 3 }),
  };
  const deco = drawPlugin('decoE', (chart, ctx) => {
    panelLabel(ctx, 'e', 15, 25);
    txt(ctx, 'half-saturation', 149.2, 181.7, { size: 13.5 });
    txt(ctx, 'constant, K', 150, 194.5, { size: 13.5 });
    // colour bar
    const x0 = 207, x1 = 220, yTop = 126, yBot = 197, dTop = 51.4, dBot = 2.4;
    const g = ctx.createLinearGradient(0, yBot, 0, yTop);
    D_STOPS.forEach((s: any) => {
      const off = (s[0] - dBot) / (dTop - dBot);
      if (off >= 0 && off <= 1) g.addColorStop(off, s[1]);
    });
    g.addColorStop(0, dColor(dBot));
    g.addColorStop(1, dColor(dTop));
    ctx.fillStyle = g;
    ctx.fillRect(x0, yTop, x1 - x0, yBot - yTop);
    ctx.strokeStyle = 'rgba(255,255,255,0.9)'; ctx.lineWidth = 1;
    CB_TICKS.forEach((d) => {
      const y = yTop + (dTop - d) * (yBot - yTop) / (dTop - dBot);
      ctx.beginPath(); ctx.moveTo(x0, y); ctx.lineTo(x0 + 2.5, y); ctx.moveTo(x1 - 2.5, y); ctx.lineTo(x1, y); ctx.stroke();
      txt(ctx, String(d), 227, y, { size: 14.5, align: 'left', color: '#333333' });
    });
    // colour bar title (rotated)
    ctx.save();
    ctx.translate(249, 157); ctx.rotate(-Math.PI / 2);
    ctx.textBaseline = 'middle'; ctx.textAlign = 'left'; ctx.fillStyle = INK;
    ctx.font = `italic 14px ${SERIF}`;
    const w1 = ctx.measureText('D ').width;
    ctx.font = `14px ${SERIF}`;
    const w2 = ctx.measureText('µg O₂ h⁻¹').width;
    const start = -(w1 + w2) / 2;
    ctx.font = `italic 14px ${SERIF}`;
    ctx.fillText('D ', start, 0);
    ctx.font = `14px ${SERIF}`;
    ctx.fillText('µg O₂ h⁻¹', start + w1, 0);
    ctx.restore();
  });
  return baseConfig(ds, scales, { left: 0, top: T, right: W - R, bottom: 0 }, [deco]);
}

function ChartBox({ left, top, width, height, make }: { left: number; top: number; width: number; height: number; make: () => any }) {
  const ref = useRef<HTMLCanvasElement>(null);
  useEffect(() => {
    if (!ref.current) return;
    const c = new Chart(ref.current, make());
    return () => c.destroy();
  }, []);
  return (
    <div style={{ position: 'absolute', left, top, width, height }}>
      <canvas ref={ref} width={width} height={height} style={{ width, height, display: 'block' }} />
    </div>
  );
}

export default function App() {
  return (
    <div style={{ position: 'absolute', left: 0, top: 0, width: 799, height: 495, background: '#ffffff', overflow: 'hidden' }}>
      <ChartBox left={0} top={0} width={285} height={235} make={makeA} />
      <ChartBox left={280} top={0} width={241} height={235} make={() => makeB(8)} />
      <ChartBox left={540} top={0} width={259} height={235} make={() => makeB(17)} />
      <ChartBox left={0} top={240} width={275} height={255} make={makeC} />
      <ChartBox left={70} top={278} width={100} height={85} make={makeInset} />
      <ChartBox left={270} top={240} width={260} height={255} make={makeD} />
      <ChartBox left={530} top={240} width={269} height={255} make={makeE} />
    </div>
  );
}
